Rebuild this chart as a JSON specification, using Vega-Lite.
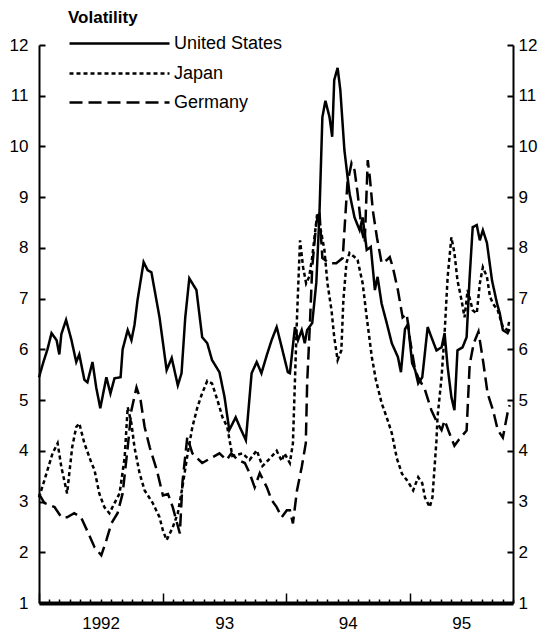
{
  "$schema": "https://vega.github.io/schema/vega-lite/v6.json",
  "width": 474,
  "height": 558,
  "autosize": {"type": "none"},
  "padding": {"left": 39, "top": 45, "right": 28, "bottom": 33},
  "config": {
    "view": {"stroke": null},
    "font": "Liberation Sans",
    "axis": {"grid": false, "title": null, "domainColor": "black", "tickColor": "black", "labelColor": "black", "labelFont": "Liberation Sans", "labelFontSize": 17}
  },
  "title": {"text": "Volatility", "anchor": "start", "frame": "group", "dx": 29, "dy": 39, "fontSize": 17, "fontWeight": "bold", "color": "black", "font": "Liberation Sans"},
  "data": {"values": [
    {"series":"United States","date":"1992-01-01","value":5.45},
    {"series":"United States","date":"1992-01-14","value":5.75},
    {"series":"United States","date":"1992-01-26","value":6.0},
    {"series":"United States","date":"1992-02-07","value":6.32},
    {"series":"United States","date":"1992-02-22","value":6.18},
    {"series":"United States","date":"1992-03-01","value":5.9},
    {"series":"United States","date":"1992-03-07","value":6.3},
    {"series":"United States","date":"1992-03-21","value":6.58},
    {"series":"United States","date":"1992-04-06","value":6.18},
    {"series":"United States","date":"1992-04-20","value":5.75},
    {"series":"United States","date":"1992-04-29","value":5.9},
    {"series":"United States","date":"1992-05-14","value":5.4},
    {"series":"United States","date":"1992-05-23","value":5.35},
    {"series":"United States","date":"1992-06-07","value":5.75},
    {"series":"United States","date":"1992-06-18","value":5.25},
    {"series":"United States","date":"1992-06-30","value":4.84},
    {"series":"United States","date":"1992-07-18","value":5.45},
    {"series":"United States","date":"1992-07-30","value":5.13},
    {"series":"United States","date":"1992-08-11","value":5.43},
    {"series":"United States","date":"1992-08-29","value":5.45},
    {"series":"United States","date":"1992-09-04","value":6.0},
    {"series":"United States","date":"1992-09-19","value":6.38},
    {"series":"United States","date":"1992-09-30","value":6.18},
    {"series":"United States","date":"1992-10-09","value":6.48},
    {"series":"United States","date":"1992-10-18","value":6.97},
    {"series":"United States","date":"1992-11-05","value":7.72},
    {"series":"United States","date":"1992-11-17","value":7.56},
    {"series":"United States","date":"1992-11-28","value":7.52},
    {"series":"United States","date":"1992-12-22","value":6.63},
    {"series":"United States","date":"1993-01-12","value":5.59},
    {"series":"United States","date":"1993-01-27","value":5.83},
    {"series":"United States","date":"1993-02-14","value":5.29},
    {"series":"United States","date":"1993-02-25","value":5.53},
    {"series":"United States","date":"1993-03-08","value":6.63},
    {"series":"United States","date":"1993-03-20","value":7.4},
    {"series":"United States","date":"1993-03-29","value":7.3},
    {"series":"United States","date":"1993-04-10","value":7.17},
    {"series":"United States","date":"1993-04-27","value":6.24},
    {"series":"United States","date":"1993-05-12","value":6.12},
    {"series":"United States","date":"1993-05-26","value":5.79},
    {"series":"United States","date":"1993-06-17","value":5.55},
    {"series":"United States","date":"1993-07-02","value":5.06},
    {"series":"United States","date":"1993-07-16","value":4.41},
    {"series":"United States","date":"1993-08-04","value":4.66},
    {"series":"United States","date":"1993-08-16","value":4.47},
    {"series":"United States","date":"1993-09-03","value":4.21},
    {"series":"United States","date":"1993-09-20","value":5.53},
    {"series":"United States","date":"1993-10-05","value":5.75},
    {"series":"United States","date":"1993-10-19","value":5.53},
    {"series":"United States","date":"1993-11-04","value":5.89},
    {"series":"United States","date":"1993-11-18","value":6.18},
    {"series":"United States","date":"1993-12-03","value":6.44},
    {"series":"United States","date":"1993-12-18","value":6.04},
    {"series":"United States","date":"1994-01-05","value":5.55},
    {"series":"United States","date":"1994-01-11","value":5.53},
    {"series":"United States","date":"1994-01-26","value":6.44},
    {"series":"United States","date":"1994-02-04","value":6.18},
    {"series":"United States","date":"1994-02-15","value":6.38},
    {"series":"United States","date":"1994-02-24","value":6.12},
    {"series":"United States","date":"1994-03-03","value":6.38},
    {"series":"United States","date":"1994-03-18","value":6.52},
    {"series":"United States","date":"1994-03-30","value":7.31},
    {"series":"United States","date":"1994-04-08","value":8.6},
    {"series":"United States","date":"1994-04-17","value":10.58},
    {"series":"United States","date":"1994-04-26","value":10.9},
    {"series":"United States","date":"1994-05-08","value":10.58},
    {"series":"United States","date":"1994-05-16","value":10.19},
    {"series":"United States","date":"1994-05-22","value":11.31},
    {"series":"United States","date":"1994-06-01","value":11.55},
    {"series":"United States","date":"1994-06-09","value":11.11},
    {"series":"United States","date":"1994-06-21","value":9.93},
    {"series":"United States","date":"1994-07-06","value":9.08},
    {"series":"United States","date":"1994-07-21","value":8.6},
    {"series":"United States","date":"1994-08-05","value":8.35},
    {"series":"United States","date":"1994-08-14","value":8.6},
    {"series":"United States","date":"1994-08-26","value":7.96},
    {"series":"United States","date":"1994-09-07","value":8.02},
    {"series":"United States","date":"1994-09-19","value":7.17},
    {"series":"United States","date":"1994-09-27","value":7.43},
    {"series":"United States","date":"1994-10-09","value":6.9},
    {"series":"United States","date":"1994-10-24","value":6.52},
    {"series":"United States","date":"1994-11-08","value":6.12},
    {"series":"United States","date":"1994-11-26","value":5.85},
    {"series":"United States","date":"1994-12-05","value":5.55},
    {"series":"United States","date":"1994-12-17","value":6.4},
    {"series":"United States","date":"1994-12-26","value":6.5},
    {"series":"United States","date":"1995-01-07","value":5.73},
    {"series":"United States","date":"1995-01-16","value":5.59},
    {"series":"United States","date":"1995-01-25","value":5.33},
    {"series":"United States","date":"1995-02-06","value":5.45},
    {"series":"United States","date":"1995-02-22","value":6.44},
    {"series":"United States","date":"1995-03-05","value":6.24},
    {"series":"United States","date":"1995-03-20","value":5.98},
    {"series":"United States","date":"1995-04-04","value":6.04},
    {"series":"United States","date":"1995-04-13","value":6.32},
    {"series":"United States","date":"1995-04-22","value":5.65},
    {"series":"United States","date":"1995-05-03","value":5.06},
    {"series":"United States","date":"1995-05-12","value":4.8},
    {"series":"United States","date":"1995-05-21","value":5.98},
    {"series":"United States","date":"1995-06-05","value":6.04},
    {"series":"United States","date":"1995-06-17","value":6.24},
    {"series":"United States","date":"1995-06-26","value":7.43},
    {"series":"United States","date":"1995-07-05","value":8.41},
    {"series":"United States","date":"1995-07-17","value":8.45},
    {"series":"United States","date":"1995-07-26","value":8.15},
    {"series":"United States","date":"1995-08-04","value":8.35},
    {"series":"United States","date":"1995-08-16","value":8.1},
    {"series":"United States","date":"1995-08-31","value":7.36},
    {"series":"United States","date":"1995-09-15","value":6.9},
    {"series":"United States","date":"1995-09-23","value":6.71},
    {"series":"United States","date":"1995-10-02","value":6.38},
    {"series":"United States","date":"1995-10-16","value":6.32},
    {"series":"United States","date":"1995-10-22","value":6.4},
    {"series":"Japan","date":"1992-01-01","value":3.08},
    {"series":"Japan","date":"1992-01-17","value":3.42},
    {"series":"Japan","date":"1992-02-10","value":3.95},
    {"series":"Japan","date":"1992-02-25","value":4.15},
    {"series":"Japan","date":"1992-03-07","value":3.68},
    {"series":"Japan","date":"1992-03-24","value":3.16},
    {"series":"Japan","date":"1992-04-08","value":4.07},
    {"series":"Japan","date":"1992-04-20","value":4.47},
    {"series":"Japan","date":"1992-04-29","value":4.54},
    {"series":"Japan","date":"1992-05-14","value":4.15},
    {"series":"Japan","date":"1992-06-04","value":3.76},
    {"series":"Japan","date":"1992-06-13","value":3.62},
    {"series":"Japan","date":"1992-06-27","value":3.16},
    {"series":"Japan","date":"1992-07-12","value":2.89},
    {"series":"Japan","date":"1992-07-27","value":2.77},
    {"series":"Japan","date":"1992-08-11","value":2.97},
    {"series":"Japan","date":"1992-08-26","value":3.16},
    {"series":"Japan","date":"1992-09-10","value":3.87},
    {"series":"Japan","date":"1992-09-19","value":4.86},
    {"series":"Japan","date":"1992-09-30","value":4.54},
    {"series":"Japan","date":"1992-10-09","value":4.07},
    {"series":"Japan","date":"1992-10-24","value":3.56},
    {"series":"Japan","date":"1992-11-08","value":3.22},
    {"series":"Japan","date":"1992-12-02","value":2.97},
    {"series":"Japan","date":"1992-12-22","value":2.69},
    {"series":"Japan","date":"1993-01-01","value":2.43},
    {"series":"Japan","date":"1993-01-12","value":2.24},
    {"series":"Japan","date":"1993-01-30","value":2.49},
    {"series":"Japan","date":"1993-02-14","value":2.77},
    {"series":"Japan","date":"1993-02-28","value":3.3},
    {"series":"Japan","date":"1993-03-14","value":3.9},
    {"series":"Japan","date":"1993-03-29","value":4.47},
    {"series":"Japan","date":"1993-04-13","value":4.86},
    {"series":"Japan","date":"1993-04-25","value":5.1},
    {"series":"Japan","date":"1993-05-12","value":5.38},
    {"series":"Japan","date":"1993-05-26","value":5.33},
    {"series":"Japan","date":"1993-06-11","value":5.0},
    {"series":"Japan","date":"1993-06-26","value":4.66},
    {"series":"Japan","date":"1993-07-10","value":4.47},
    {"series":"Japan","date":"1993-07-25","value":3.9},
    {"series":"Japan","date":"1993-08-24","value":3.95},
    {"series":"Japan","date":"1993-09-14","value":3.82},
    {"series":"Japan","date":"1993-10-05","value":4.01},
    {"series":"Japan","date":"1993-10-22","value":3.7},
    {"series":"Japan","date":"1993-11-13","value":3.85},
    {"series":"Japan","date":"1993-12-03","value":4.0},
    {"series":"Japan","date":"1993-12-18","value":3.8},
    {"series":"Japan","date":"1993-12-26","value":3.95},
    {"series":"Japan","date":"1994-01-11","value":3.76},
    {"series":"Japan","date":"1994-01-20","value":4.15},
    {"series":"Japan","date":"1994-02-01","value":6.63},
    {"series":"Japan","date":"1994-02-10","value":8.15},
    {"series":"Japan","date":"1994-02-19","value":7.62},
    {"series":"Japan","date":"1994-02-28","value":7.3},
    {"series":"Japan","date":"1994-03-09","value":7.43},
    {"series":"Japan","date":"1994-03-18","value":7.82},
    {"series":"Japan","date":"1994-04-02","value":8.69},
    {"series":"Japan","date":"1994-04-14","value":8.29},
    {"series":"Japan","date":"1994-04-23","value":7.96},
    {"series":"Japan","date":"1994-05-02","value":7.3},
    {"series":"Japan","date":"1994-05-14","value":6.77},
    {"series":"Japan","date":"1994-05-22","value":6.24},
    {"series":"Japan","date":"1994-06-01","value":5.79},
    {"series":"Japan","date":"1994-06-12","value":5.98},
    {"series":"Japan","date":"1994-06-18","value":6.97},
    {"series":"Japan","date":"1994-06-27","value":7.7},
    {"series":"Japan","date":"1994-07-06","value":7.9},
    {"series":"Japan","date":"1994-07-21","value":7.82},
    {"series":"Japan","date":"1994-07-30","value":7.76},
    {"series":"Japan","date":"1994-08-14","value":7.3},
    {"series":"Japan","date":"1994-08-26","value":6.63},
    {"series":"Japan","date":"1994-09-10","value":5.85},
    {"series":"Japan","date":"1994-09-22","value":5.4},
    {"series":"Japan","date":"1994-10-09","value":4.94},
    {"series":"Japan","date":"1994-10-24","value":4.66},
    {"series":"Japan","date":"1994-11-08","value":4.35},
    {"series":"Japan","date":"1994-11-23","value":3.85},
    {"series":"Japan","date":"1994-12-08","value":3.55},
    {"series":"Japan","date":"1994-12-25","value":3.4},
    {"series":"Japan","date":"1995-01-10","value":3.22},
    {"series":"Japan","date":"1995-01-25","value":3.48},
    {"series":"Japan","date":"1995-02-06","value":3.36},
    {"series":"Japan","date":"1995-02-14","value":3.08},
    {"series":"Japan","date":"1995-02-28","value":2.89},
    {"series":"Japan","date":"1995-03-08","value":3.08},
    {"series":"Japan","date":"1995-03-20","value":4.21},
    {"series":"Japan","date":"1995-03-23","value":4.66},
    {"series":"Japan","date":"1995-04-04","value":5.45},
    {"series":"Japan","date":"1995-04-13","value":6.32},
    {"series":"Japan","date":"1995-04-22","value":7.43},
    {"series":"Japan","date":"1995-05-03","value":8.21},
    {"series":"Japan","date":"1995-05-12","value":7.9},
    {"series":"Japan","date":"1995-05-21","value":7.36},
    {"series":"Japan","date":"1995-06-02","value":6.97},
    {"series":"Japan","date":"1995-06-11","value":6.63},
    {"series":"Japan","date":"1995-06-20","value":7.17},
    {"series":"Japan","date":"1995-07-05","value":6.77},
    {"series":"Japan","date":"1995-07-17","value":6.71},
    {"series":"Japan","date":"1995-07-26","value":7.3},
    {"series":"Japan","date":"1995-08-04","value":7.62},
    {"series":"Japan","date":"1995-08-16","value":7.43},
    {"series":"Japan","date":"1995-08-25","value":7.04},
    {"series":"Japan","date":"1995-09-03","value":6.9},
    {"series":"Japan","date":"1995-09-17","value":6.77},
    {"series":"Japan","date":"1995-10-02","value":6.44},
    {"series":"Japan","date":"1995-10-16","value":6.38},
    {"series":"Japan","date":"1995-10-22","value":6.6},
    {"series":"Germany","date":"1992-01-01","value":3.15},
    {"series":"Germany","date":"1992-01-17","value":2.97},
    {"series":"Germany","date":"1992-02-16","value":2.89},
    {"series":"Germany","date":"1992-03-07","value":2.69},
    {"series":"Germany","date":"1992-03-24","value":2.69},
    {"series":"Germany","date":"1992-04-14","value":2.77},
    {"series":"Germany","date":"1992-05-04","value":2.69},
    {"series":"Germany","date":"1992-05-22","value":2.43},
    {"series":"Germany","date":"1992-06-13","value":2.1},
    {"series":"Germany","date":"1992-07-03","value":1.94},
    {"series":"Germany","date":"1992-07-18","value":2.24},
    {"series":"Germany","date":"1992-08-02","value":2.57},
    {"series":"Germany","date":"1992-08-20","value":2.77},
    {"series":"Germany","date":"1992-09-04","value":3.16},
    {"series":"Germany","date":"1992-09-19","value":4.07},
    {"series":"Germany","date":"1992-09-30","value":4.8},
    {"series":"Germany","date":"1992-10-15","value":5.25},
    {"series":"Germany","date":"1992-10-27","value":5.0},
    {"series":"Germany","date":"1992-11-08","value":4.47},
    {"series":"Germany","date":"1992-11-23","value":4.07},
    {"series":"Germany","date":"1992-12-14","value":3.62},
    {"series":"Germany","date":"1993-01-01","value":3.12},
    {"series":"Germany","date":"1993-01-16","value":3.15},
    {"series":"Germany","date":"1993-01-30","value":2.89},
    {"series":"Germany","date":"1993-02-20","value":2.37},
    {"series":"Germany","date":"1993-02-28","value":3.4},
    {"series":"Germany","date":"1993-03-14","value":4.27},
    {"series":"Germany","date":"1993-03-29","value":3.95},
    {"series":"Germany","date":"1993-04-27","value":3.76},
    {"series":"Germany","date":"1993-05-26","value":3.87},
    {"series":"Germany","date":"1993-06-17","value":3.95},
    {"series":"Germany","date":"1993-07-08","value":3.82},
    {"series":"Germany","date":"1993-07-22","value":3.95},
    {"series":"Germany","date":"1993-08-10","value":3.82},
    {"series":"Germany","date":"1993-08-31","value":3.76},
    {"series":"Germany","date":"1993-09-14","value":3.56},
    {"series":"Germany","date":"1993-09-29","value":3.28},
    {"series":"Germany","date":"1993-10-14","value":3.56},
    {"series":"Germany","date":"1993-11-04","value":3.28},
    {"series":"Germany","date":"1993-11-18","value":3.03},
    {"series":"Germany","date":"1993-12-03","value":2.89},
    {"series":"Germany","date":"1993-12-18","value":2.69},
    {"series":"Germany","date":"1994-01-02","value":2.83},
    {"series":"Germany","date":"1994-01-11","value":2.83},
    {"series":"Germany","date":"1994-01-20","value":2.57},
    {"series":"Germany","date":"1994-02-01","value":3.22},
    {"series":"Germany","date":"1994-02-15","value":3.68},
    {"series":"Germany","date":"1994-02-27","value":4.15},
    {"series":"Germany","date":"1994-03-03","value":5.33},
    {"series":"Germany","date":"1994-03-12","value":6.63},
    {"series":"Germany","date":"1994-03-18","value":7.62},
    {"series":"Germany","date":"1994-03-30","value":8.49},
    {"series":"Germany","date":"1994-04-08","value":8.74},
    {"series":"Germany","date":"1994-04-17","value":7.8},
    {"series":"Germany","date":"1994-05-08","value":7.7},
    {"series":"Germany","date":"1994-05-28","value":7.7},
    {"series":"Germany","date":"1994-06-16","value":7.8},
    {"series":"Germany","date":"1994-06-30","value":9.28},
    {"series":"Germany","date":"1994-07-12","value":9.67},
    {"series":"Germany","date":"1994-07-21","value":9.53},
    {"series":"Germany","date":"1994-07-30","value":9.08},
    {"series":"Germany","date":"1994-08-11","value":8.35},
    {"series":"Germany","date":"1994-08-20","value":8.1},
    {"series":"Germany","date":"1994-08-29","value":9.73},
    {"series":"Germany","date":"1994-09-04","value":9.4},
    {"series":"Germany","date":"1994-09-13","value":8.74},
    {"series":"Germany","date":"1994-09-25","value":8.21},
    {"series":"Germany","date":"1994-10-09","value":7.7},
    {"series":"Germany","date":"1994-10-24","value":7.76},
    {"series":"Germany","date":"1994-11-02","value":7.82},
    {"series":"Germany","date":"1994-11-11","value":7.62},
    {"series":"Germany","date":"1994-11-26","value":7.17},
    {"series":"Germany","date":"1994-12-10","value":6.63},
    {"series":"Germany","date":"1994-12-22","value":6.7},
    {"series":"Germany","date":"1995-01-01","value":6.18},
    {"series":"Germany","date":"1995-01-16","value":5.59},
    {"series":"Germany","date":"1995-01-25","value":5.45},
    {"series":"Germany","date":"1995-02-14","value":5.2},
    {"series":"Germany","date":"1995-03-05","value":4.8},
    {"series":"Germany","date":"1995-03-23","value":4.54},
    {"series":"Germany","date":"1995-04-04","value":4.41},
    {"series":"Germany","date":"1995-04-13","value":4.6},
    {"series":"Germany","date":"1995-04-27","value":4.35},
    {"series":"Germany","date":"1995-05-12","value":4.1},
    {"series":"Germany","date":"1995-05-26","value":4.23},
    {"series":"Germany","date":"1995-06-17","value":4.4},
    {"series":"Germany","date":"1995-06-26","value":5.7},
    {"series":"Germany","date":"1995-07-08","value":6.12},
    {"series":"Germany","date":"1995-07-22","value":6.35},
    {"series":"Germany","date":"1995-08-04","value":5.8},
    {"series":"Germany","date":"1995-08-18","value":5.13},
    {"series":"Germany","date":"1995-09-03","value":4.8},
    {"series":"Germany","date":"1995-09-17","value":4.41},
    {"series":"Germany","date":"1995-10-02","value":4.26},
    {"series":"Germany","date":"1995-10-16","value":4.75},
    {"series":"Germany","date":"1995-10-22","value":4.9}
  ]},
  "encoding": {
    "x": {
      "field": "date", "type": "temporal",
      "scale": {"type": "utc", "domain": [{"year": 1992, "month": 1, "date": 1, "utc": true}, {"year": 1995, "month": 11, "date": 1, "utc": true}], "nice": false},
      "axis": {
        "orient": "bottom",
        "tickCount": {"interval": "month", "step": 1},
        "tickSize": {"condition": {"test": "utcmonth(datum.value) == 0", "value": -10}, "value": -4},
        "tickWidth": 1.5,
        "domainWidth": 4,
        "labelPadding": 16,
        "labelOverlap": false,
        "labelFlush": false,
        "labelBound": false,
        "labelExpr": "utcmonth(datum.value) == 6 && utcyear(datum.value) == 1992 ? '1992' : utcmonth(datum.value) == 6 && utcyear(datum.value) == 1993 ? '93' : utcmonth(datum.value) == 6 && utcyear(datum.value) == 1994 ? '94' : utcmonth(datum.value) == 5 && utcyear(datum.value) == 1995 ? '95' : ''"
      }
    }
  },
  "layer": [
    {
      "transform": [{"filter": "datum.series === 'United States'"}],
      "mark": {"type": "line", "color": "black", "strokeWidth": 2.5},
      "encoding": {
        "y": {"field": "value", "type": "quantitative", "scale": {"domain": [1, 12], "nice": false, "zero": false},
          "axis": {"orient": "left", "values": [1,2,3,4,5,6,7,8,9,10,11,12], "tickSize": -6, "tickWidth": 2, "domainWidth": 2, "labelPadding": 17}},
        "strokeDash": {"field": "series", "type": "nominal", "scale": {"domain": ["United States"], "range": [[1, 0]]},
          "legend": {"title": null, "orient": "none", "legendX": 29, "legendY": -53, "symbolType": "stroke", "symbolSize": 10000, "symbolStrokeWidth": 2.5, "symbolStrokeColor": "black", "labelFontSize": 18, "labelColor": "black", "labelOffset": 3, "labelFont": "Liberation Sans"}}
      }
    },
    {
      "transform": [{"filter": "datum.series === 'Japan'"}],
      "mark": {"type": "line", "color": "black", "strokeWidth": 2.5},
      "encoding": {
        "y": {"field": "value", "type": "quantitative", "scale": {"domain": [1, 12], "nice": false, "zero": false},
          "axis": {"orient": "right", "values": [1,2,3,4,5,6,7,8,9,10,11,12], "tickSize": -6, "tickWidth": 2, "domainWidth": 2, "labelPadding": 11}},
        "strokeDash": {"field": "series", "type": "nominal", "scale": {"domain": ["Japan"], "range": [[4, 3]]},
          "legend": {"title": null, "orient": "none", "legendX": 29, "legendY": -23, "symbolType": "stroke", "symbolSize": 10000, "symbolStrokeWidth": 2.5, "symbolStrokeColor": "black", "labelFontSize": 18, "labelColor": "black", "labelOffset": 3, "labelFont": "Liberation Sans"}}
      }
    },
    {
      "transform": [{"filter": "datum.series === 'Germany'"}],
      "mark": {"type": "line", "color": "black", "strokeWidth": 2.5},
      "encoding": {
        "y": {"field": "value", "type": "quantitative", "scale": {"domain": [1, 12], "nice": false, "zero": false}, "axis": null},
        "strokeDash": {"field": "series", "type": "nominal", "scale": {"domain": ["Germany"], "range": [[13, 6]]},
          "legend": {"title": null, "orient": "none", "legendX": 29, "legendY": 6, "symbolType": "stroke", "symbolSize": 10000, "symbolStrokeWidth": 2.5, "symbolStrokeColor": "black", "labelFontSize": 18, "labelColor": "black", "labelOffset": 3, "labelFont": "Liberation Sans"}}
      }
    }
  ],
  "resolve": {"scale": {"strokeDash": "independent"}, "legend": {"strokeDash": "independent"}, "axis": {"y": "independent"}}
}
